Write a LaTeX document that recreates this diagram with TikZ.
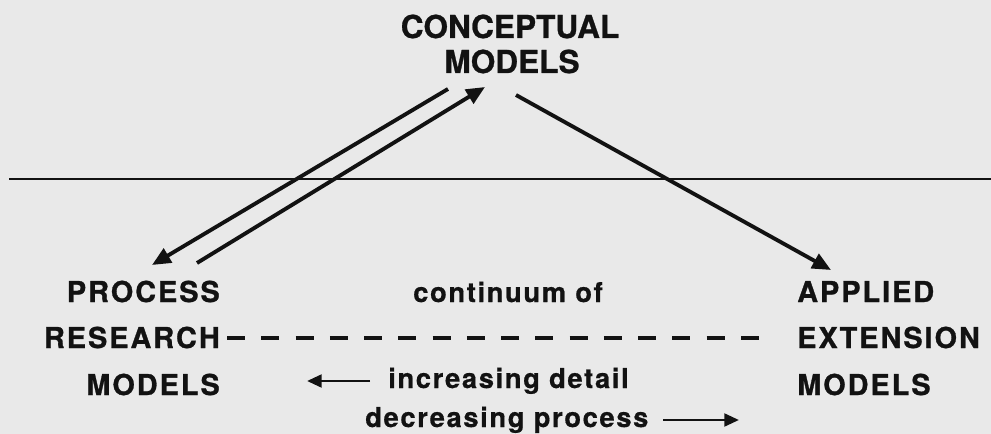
\documentclass[tikz,border=0pt]{standalone}
\usepackage{fontspec}
\setmainfont{TeX Gyre Heros}[FakeBold=0.8]
\newfontfamily\lblfont[LetterSpace=7,FakeBold=1]{TeX Gyre Heros}
\newfontfamily\notefont[LetterSpace=6,FakeBold=0.6]{TeX Gyre Heros}
\usetikzlibrary{arrows.meta}
\definecolor{bg}{RGB}{233,233,233}
\definecolor{ink}{RGB}{18,18,18}
\begin{document}
\begin{tikzpicture}[x=0.75pt,y=-0.75pt,
  title/.style={font=\bfseries\fontsize{23.7}{28}\selectfont, inner sep=0pt, text=ink},
  modellabel/.style={font=\lblfont\bfseries\fontsize{21.6}{25}\selectfont, inner sep=0pt, text=ink},
  note/.style={font=\notefont\bfseries\fontsize{20.5}{25}\selectfont, inner sep=0pt, text=ink},
  bigarrow/.style={line width=2.9pt, draw=ink, -{Triangle[length=14pt,width=12pt]}},
  smallarrow/.style={line width=2.2pt, draw=ink, -{Triangle[length=11pt,width=9.5pt]}},
  rule/.style={line width=1.8pt, draw=ink},
  continuum/.style={line width=3pt, draw=ink, dash pattern=on 13.5pt off 12.2pt}
]
\fill[bg] (0,0) rectangle (991,434);
\useasboundingbox (0,0) rectangle (991,434);

% title
\node[title, anchor=base] (conc1) at (510,38) {CONCEPTUAL};
\node[title, anchor=base] (conc2) at (512,73) {MODELS};

% left block
\node[modellabel, anchor=base east] (proc1) at (220,302) {PROCESS};
\node[modellabel, anchor=base east] (proc2) at (220,348) {RESEARCH};
\node[modellabel, anchor=base east] (proc3) at (220,395) {MODELS};

% right block
\node[modellabel, anchor=base west] (appl1) at (797,302) {APPLIED};
\node[modellabel, anchor=base west] (appl2) at (797,348) {EXTENSION};
\node[modellabel, anchor=base west] (appl3) at (797,395) {MODELS};

% middle notes
\node[note, anchor=base] (cont) at (508,302) {continuum of};
\node[note, anchor=base west] (incr) at (388,388) {increasing detail};
\node[note, anchor=base west] (decr) at (365,427) {decreasing process};

% horizontal rule
\coordinate (ruleL) at (9,179);
\coordinate (ruleR) at (991,179);
\draw[rule] (ruleL) -- (ruleR);

% main arrows
\coordinate (a1s) at (197,263);
\coordinate (a1e) at (485,87);
\coordinate (a2s) at (448,89);
\coordinate (a2e) at (152,265);
\coordinate (a3s) at (516,95);
\coordinate (a3e) at (831,270);
\draw[bigarrow] (a1s) -- (a1e);
\draw[bigarrow] (a2s) -- (a2e);
\draw[bigarrow] (a3s) -- (a3e);

% dashed continuum
\coordinate (dL) at (227,338);
\coordinate (dR) at (759,338);
\draw[continuum] (dL) -- (dR);

% small arrows
\coordinate (incrS) at (370,381);
\coordinate (incrE) at (307,381);
\coordinate (decrS) at (663,420);
\coordinate (decrE) at (739,420);
\draw[smallarrow] (incrS) -- (incrE);
\draw[smallarrow] (decrS) -- (decrE);
\end{tikzpicture}
\end{document}
